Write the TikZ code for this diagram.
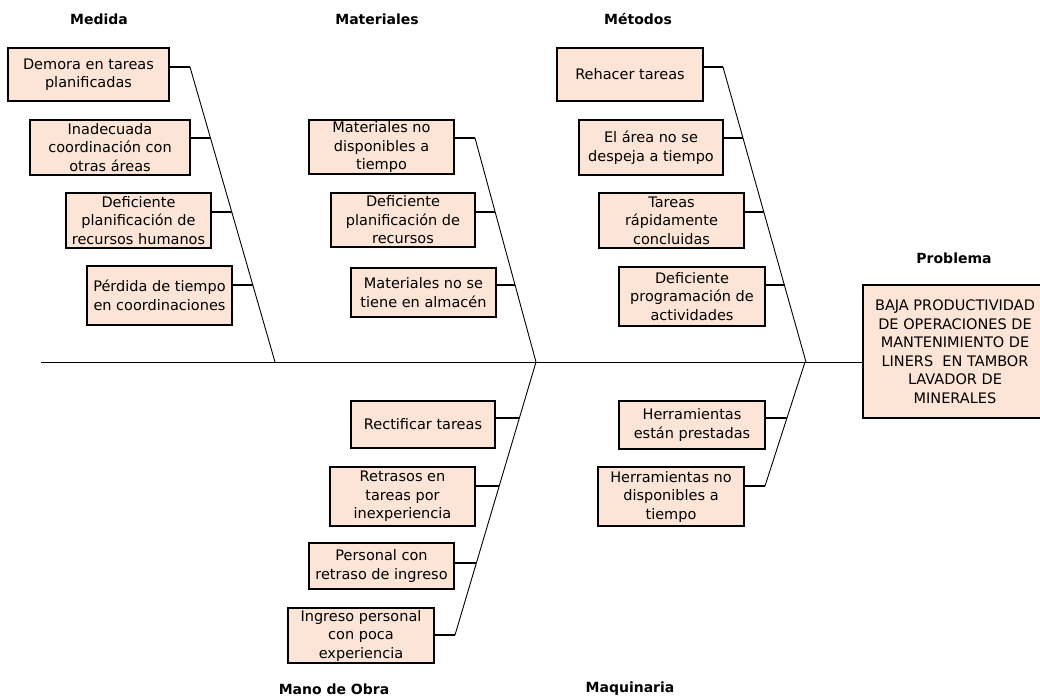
\documentclass[tikz,border=0pt]{standalone}
\usepackage{fontspec}
\setmainfont{DejaVu Sans}
\usetikzlibrary{calc}
\definecolor{causefill}{RGB}{252,228,214}
\tikzset{
  cause/.style={draw=black, line width=1.3pt, fill=causefill, align=center,
    inner sep=1pt, font=\fontsize{14.5}{18.5}\selectfont},
  head/.style={font=\fontsize{14}{17}\selectfont\bfseries, inner sep=0pt},
  bone/.style={line width=0.9pt, draw=black},
  rib/.style={line width=1.2pt, draw=black}
}
\begin{document}
\begin{tikzpicture}[x=1pt, y=-1pt]
\useasboundingbox (0,0) rectangle (1040,699);

% category headers
\node[head] (hMed) at (99,19) {Medida};
\node[head] (hMat) at (377,19) {Materiales};
\node[head] (hMet) at (638,19) {Métodos};
\node[head] (hPro) at (954,258) {Problema};
\node[head] (hMan) at (334,689) {Mano de Obra};
\node[head] (hMaq) at (630,689) {Maquinaria};

% effect box
\node[cause, minimum width=184, minimum height=133] (prob) at (955,351.5)
  {BAJA PRODUCTIVIDAD\\DE OPERACIONES DE\\MANTENIMIENTO DE\\LINERS\ \ EN TAMBOR\\LAVADOR DE\\MINERALES};

% Medida causes
\node[cause, minimum width=161, minimum height=53] (m1) at (88.5,74.5) {Demora en tareas\\planificadas};
\node[cause, minimum width=160, minimum height=55] (m2) at (110,147.5) {Inadecuada\\coordinación con\\otras áreas};
\node[cause, minimum width=145, minimum height=55] (m3) at (138.5,220.5) {Deficiente\\planificación de\\recursos humanos};
\node[cause, minimum width=145, minimum height=59] (m4) at (159.5,295.5) {Pérdida de tiempo\\en coordinaciones};

% Materiales causes
\node[cause, minimum width=145, minimum height=54] (a1) at (381.5,147) {Materiales no\\disponibles a\\tiempo};
\node[cause, minimum width=144, minimum height=54] (a2) at (403,220) {Deficiente\\planificación de\\recursos};
\node[cause, minimum width=145, minimum height=49] (a3) at (423.5,292.5) {Materiales no se\\tiene en almacén};

% Métodos causes
\node[cause, minimum width=146, minimum height=53] (t1) at (630,74.5) {Rehacer tareas};
\node[cause, minimum width=144, minimum height=55] (t2) at (651,147.5) {El área no se\\despeja a tiempo};
\node[cause, minimum width=145, minimum height=55] (t3) at (671.5,220.5) {Tareas\\rápidamente\\concluidas};
\node[cause, minimum width=146, minimum height=59] (t4) at (692,296.5) {Deficiente\\programación de\\actividades};

% Mano de Obra causes
\node[cause, minimum width=144, minimum height=47] (o1) at (423,424.5) {Rectificar tareas};
\node[cause, minimum width=145, minimum height=59] (o2) at (402.5,496.5) {Retrasos en\\tareas por\\inexperiencia};
\node[cause, minimum width=145, minimum height=46] (o3) at (381.5,566) {Personal con\\retraso de ingreso};
\node[cause, minimum width=146, minimum height=55] (o4) at (361,635.5) {Ingreso personal\\con poca\\experiencia};

% Maquinaria causes
\node[cause, minimum width=146, minimum height=48] (q1) at (692,425) {Herramientas\\están prestadas};
\node[cause, minimum width=146, minimum height=59] (q2) at (671,496.5) {Herramientas no\\disponibles a\\tiempo};

% spine and branch joints
\coordinate (tail) at (41,362);
\coordinate (jMed) at (275,362);
\coordinate (jMat) at (536,362);
\coordinate (jMet) at (806,362);
\coordinate (jMaq) at (805,362);

% points where the ribs meet the bones
\coordinate (pm1) at (190,67);
\coordinate (pm2) at (210.5,138);
\coordinate (pm3) at (231.8,212);
\coordinate (pm4) at (252.8,285);
\coordinate (pa1) at (475,138);
\coordinate (pa2) at (495.2,212);
\coordinate (pa3) at (515.0,285);
\coordinate (pt1) at (723,67);
\coordinate (pt2) at (743.2,138);
\coordinate (pt3) at (764.3,212);
\coordinate (pt4) at (785.1,285);
\coordinate (po1) at (519.4,418);
\coordinate (po2) at (499.2,486);
\coordinate (po3) at (476.4,563);
\coordinate (po4) at (455,635);
\coordinate (pq1) at (786.9,418);
\coordinate (pq2) at (765,486);

% bones
\draw[bone] (tail) -- (tail -| prob.west);
\draw[bone] (pm1) -- (jMed);
\draw[bone] (pa1) -- (jMat);
\draw[bone] (pt1) -- (jMet);
\draw[bone] (jMat) -- (po4);
\draw[bone] (jMaq) -- (pq2);

% ribs
\foreach \b/\p in {m1/pm1, m2/pm2, m3/pm3, m4/pm4, a1/pa1, a2/pa2, a3/pa3,
                   t1/pt1, t2/pt2, t3/pt3, t4/pt4, o1/po1, o2/po2, o3/po3,
                   o4/po4, q1/pq1, q2/pq2}
  \draw[rib] (\b.east |- \p) -- (\p);
\end{tikzpicture}
\end{document}
